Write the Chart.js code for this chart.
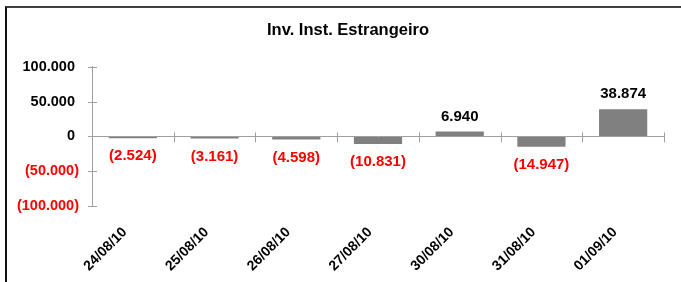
<!DOCTYPE HTML>
<html lang="pt-BR">
<head>
<meta charset="UTF-8">
<title>Inv. Inst. Estrangeiro</title>
<script src="https://cdn.jsdelivr.net/npm/chart.js@4/dist/chart.umd.min.js"></script>
<style>
  body { margin: 0; background: #fff; }
  #wrap { position: relative; width: 681px; height: 282px; overflow: hidden; }
  #frame { position: absolute; left: 5px; top: 6px; right: -4px; bottom: -4px;
           border-top: 2px solid #404040; border-left: 2px solid #111; }
</style>
</head>
<body>
<div id="wrap">
  <div id="frame"></div>
  <canvas id="canvas" width="681" height="282"></canvas>
</div>

<script>
// dados do gráfico
var datas = ['24/08/10', '25/08/10', '26/08/10', '27/08/10', '30/08/10', '31/08/10', '01/09/10'];
var valores = [-2524, -3161, -4598, -10831, 6940, -14947, 38874];
var titulo = 'Inv. Inst. Estrangeiro';

var fonte = 'Arial, "Liberation Sans", sans-serif';

// 12345 -> "12.345", negativos entre parênteses
function formata(v) {
  var s = Math.abs(v).toString().replace(/\B(?=(\d{3})+(?!\d))/g, '.');
  return v < 0 ? '(' + s + ')' : s + ' ';
}

// rótulos sobre as barras
var rotulos = {
  id: 'rotulos',
  afterDatasetsDraw: function(chart) {
    var ctx = chart.ctx;
    var meta = chart.getDatasetMeta(0);
    ctx.save();
    ctx.font = 'bold 15px ' + fonte;
    ctx.textAlign = 'center';
    ctx.textBaseline = 'middle';
    meta.data.forEach(function(bar, i) {
      var v = valores[i];
      ctx.fillStyle = v < 0 ? '#ff0000' : '#000000';
      var y = v < 0 ? bar.y + 18 : bar.y - 15;
      ctx.fillText(formata(v).trim(), bar.x, y);
    });
    ctx.restore();
  }
};

// marcas cruzadas nos eixos (estilo Excel)
var marcas = {
  id: 'marcas',
  afterDraw: function(chart) {
    var ctx = chart.ctx;
    var xs = chart.scales.x, ys = chart.scales.y;
    var y0 = ys.getPixelForValue(0);
    var passo = (xs.right - xs.left) / datas.length;
    ctx.save();
    ctx.strokeStyle = '#a0a0a0';
    ctx.lineWidth = 1;
    ctx.beginPath();
    ys.ticks.forEach(function(t, i) {
      var py = Math.round(ys.getPixelForTick(i)) + 0.5;
      ctx.moveTo(xs.left - 4, py);
      ctx.lineTo(xs.left + 5, py);
    });
    for (var i = 1; i <= datas.length; i++) {
      var px = Math.round(xs.left + i * passo) + 0.5;
      ctx.moveTo(px, y0 - 4);
      ctx.lineTo(px, y0 + 6);
    }
    ctx.stroke();
    ctx.restore();
  }
};

window.onload = function() {
  var ctx = document.getElementById('canvas').getContext('2d');
  window.myChart = new Chart(ctx, {
    type: 'bar',
    data: {
      labels: datas,
      datasets: [{
        label: titulo,
        data: valores,
        backgroundColor: '#808080',
        borderWidth: 0,
        categoryPercentage: 1,
        barPercentage: 0.59
      }]
    },
    options: {
      responsive: false,
      animation: false,
      layout: { padding: { left: 15, right: 0, top: 0, bottom: 0 } },
      plugins: {
        legend: { display: false },
        tooltip: { enabled: false },
        title: {
          display: true,
          text: titulo,
          color: '#000',
          font: { family: fonte, size: 16.5, weight: 'bold' },
          padding: { top: 21, bottom: 26 }
        }
      },
      scales: {
        x: {
          grid: { display: false, drawTicks: false },
          border: { display: false },
          ticks: {
            color: '#000',
            font: { family: fonte, size: 14, weight: 'bold' },
            maxRotation: 45,
            minRotation: 45,
            padding: 18,
            labelOffset: -8,
            autoSkip: false
          },
          afterFit: function(s) { s.height = 76; }
        },
        y: {
          min: -100000,
          max: 100000,
          border: { display: true, color: '#a0a0a0' },
          grid: {
            drawTicks: false,
            color: function(c) { return c.tick && c.tick.value === 0 ? '#a0a0a0' : 'rgba(0,0,0,0)'; }
          },
          ticks: {
            stepSize: 50000,
            padding: 13,
            font: { family: fonte, size: 14.5, weight: 'bold' },
            color: function(c) { return c.tick.value < 0 ? '#ff0000' : '#000000'; },
            callback: function(v) { return formata(v); }
          },
          afterFit: function(s) { s.width = 77; }
        },
        // eixo vazio à direita, só para a margem
        margem: {
          position: 'right',
          min: 0,
          max: 1,
          grid: { display: false, drawTicks: false },
          border: { display: false },
          ticks: { display: false },
          afterFit: function(s) { s.width = 17; }
        }
      }
    },
    plugins: [rotulos, marcas]
  });
};
</script>
</body>
</html>
